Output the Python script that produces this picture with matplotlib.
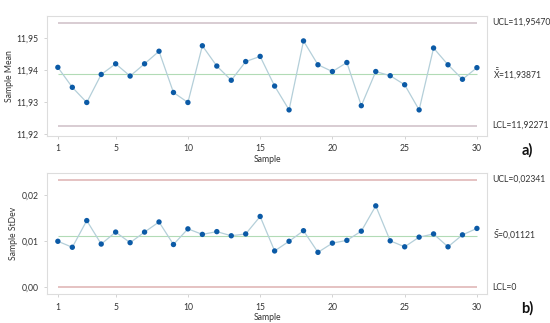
import matplotlib
matplotlib.use("Agg")
import matplotlib.pyplot as plt
from matplotlib.ticker import FuncFormatter

plt.rcParams['font.family'] = ['Lato', 'DejaVu Sans']
plt.rcParams['mathtext.fontset'] = 'custom'
plt.rcParams['mathtext.rm'] = 'Lato'
plt.rcParams['mathtext.it'] = 'Lato'

samples = list(range(1, 31))
means = [11.9408, 11.9346, 11.9299, 11.9386, 11.9419, 11.9381, 11.9419, 11.9458, 11.9330, 11.9299,
         11.9475, 11.9412, 11.9368, 11.9426, 11.9442, 11.9350, 11.9276, 11.9490, 11.9416, 11.9395,
         11.9423, 11.9289, 11.9395, 11.9382, 11.9354, 11.9276, 11.9468, 11.9416, 11.9371, 11.9407]
stdevs = [0.0100, 0.0087, 0.0145, 0.0094, 0.0120, 0.0097, 0.0120, 0.0142, 0.0093, 0.0127,
          0.0115, 0.0121, 0.0112, 0.0116, 0.0154, 0.0079, 0.0100, 0.0123, 0.0076, 0.0096,
          0.0102, 0.0122, 0.0177, 0.0101, 0.0088, 0.0109, 0.0116, 0.0088, 0.0114, 0.0128]
mean_limits = {'UCL': 11.95470, 'CL': 11.93871, 'LCL': 11.92271}
sd_limits = {'UCL': 0.02341, 'CL': 0.01121, 'LCL': 0.0}
mean_labels = ['UCL=11,95470', r'$\bar{\bar{\mathrm{X}}}$=11,93871', 'LCL=11,92271']
sd_labels = ['UCL=0,02341', r'$\bar{\mathrm{S}}$=0,01121', 'LCL=0']
xticks = [1, 5, 10, 15, 20, 25, 30]

fig = plt.figure(figsize=(5.5, 3.23), dpi=100)
ax1 = fig.add_axes([0.0855, 0.579, 0.80, 0.3715])
ax2 = fig.add_axes([0.0855, 0.0889, 0.80, 0.3746])

pt_color = '#0b5aa6'
line_color = '#b4cfd9'
cl_color = '#b2dbb6'
tc = '#333333'
fs = 6.2

def style(ax, data, lim, labels, ylab, tag, ylim, yticks, fmt, lim_color, lp):
    ax.plot(samples, data, color=line_color, lw=0.9, zorder=2)
    ax.scatter(samples, data, s=15, color=pt_color, zorder=3, edgecolors='none')
    ax.hlines([lim['UCL'], lim['LCL']], 1, 30, color=lim_color, lw=1.3, zorder=1)
    ax.hlines(lim['CL'], 1, 30, color=cl_color, lw=0.8, zorder=1)
    ax.set_xlim(0.25, 30.7)
    ax.set_ylim(*ylim)
    ax.set_xticks(xticks)
    ax.set_yticks(yticks)
    ax.yaxis.set_major_formatter(FuncFormatter(lambda v, p: fmt.format(v).replace('.', ',')))
    for s in ax.spines.values():
        s.set_color('#dddddd')
        s.set_linewidth(0.8)
    ax.tick_params(labelsize=fs, colors='#cccccc', labelcolor=tc, length=2.5, width=0.6)
    ax.set_xlabel('Sample', fontsize=fs, color=tc, labelpad=1, x=0.5)
    ax.set_ylabel(ylab, fontsize=fs, color=tc, labelpad=lp)
    for key, txt in zip(['UCL', 'CL', 'LCL'], labels):
        ax.annotate(txt, xy=(1.0, lim[key]), xycoords=('axes fraction', 'data'),
                    xytext=(4, 0), textcoords='offset points', fontsize=fs,
                    color=tc, va='center', ha='left')
    ax.text(1.078, -0.12, tag, transform=ax.transAxes, fontsize=10.5, fontweight='bold',
            color='#111111', ha='left', va='center')

style(ax1, means, mean_limits, mean_labels, 'Sample Mean', 'a)',
      (11.9195, 11.95674), [11.92, 11.93, 11.94, 11.95], '{:.2f}', '#d6c8cf', 1.5)
style(ax2, stdevs, sd_limits, sd_labels, 'Sample StDev', 'b)',
      (-0.00152, 0.02478), [0.0, 0.01, 0.02], '{:.2f}', '#e3bdbd', 3)

fig.savefig('out.png', dpi=100, facecolor='white')
